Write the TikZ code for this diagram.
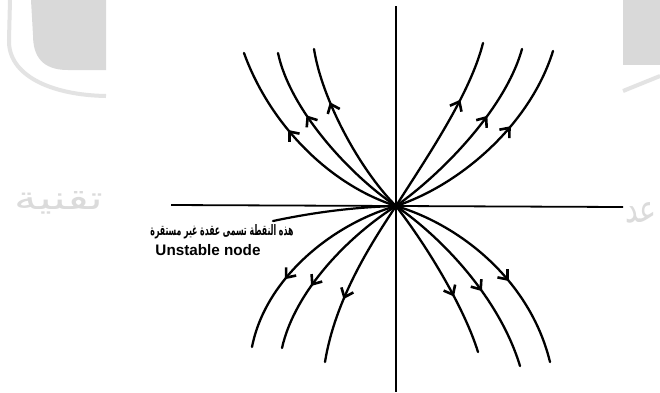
\documentclass[tikz,border=0pt]{standalone}
\usepackage{fontspec}
\setmainfont{Liberation Sans}
\newfontfamily\arabicfont[Script=Arabic]{DejaVu Sans}
\TeXXeTstate=1
\usetikzlibrary{arrows.meta,decorations.markings}
\tikzset{
  axisline/.style={line width=1.8pt, black},
  traj/.style={line width=2.3pt, black, line cap=round, postaction=decorate,
    decoration={markings, mark=at position #1 with {\arrow{Straight Barb[length=8pt,width=13pt,line width=2.6pt]}}}},
  wm/.style={fill=black!15, draw=none},
  wmline/.style={draw=black!11, line width=4pt},
  wmtext/.style={text=black!14, inner sep=0pt},
  lbl/.style={inner sep=0pt, text=black},
}
\begin{document}
\begin{tikzpicture}[x=1pt,y=-1pt]
\useasboundingbox (0,0) rectangle (660,392);
\fill[white] (0,0) rectangle (660,392);
% watermark
\fill[wm] (31,0) -- (106,0) -- (106,70) -- (68,70) .. controls (42,70) and (33,56) .. (33,35) -- cycle;
\draw[wmline] (10,0) -- (9,40) .. controls (8,75) and (50,95) .. (106,96);
\fill[wm] (623,0) rectangle (660,65);
\draw[wmline] (623,91) -- (660,76);
\node[wmtext] (wmL) at (59,203) {\resizebox{88pt}{18pt}{\arabicfont\beginR تقنية\endR}};
\node[wmtext] (wmR) at (641,213) {\resizebox{32pt}{20pt}{\arabicfont\beginR عد\endR}};
% axes
\coordinate (O) at (396,206);
\coordinate (axT) at (396,6);
\coordinate (axB) at (396,392);
\coordinate (axL) at (171,205);
\coordinate (axR) at (623,207);
\draw[axisline] (axT) -- (axB);
\draw[axisline] (axL) -- (axR);
% end points
\coordinate (ul1) at (244,53);
\coordinate (ul2) at (278,53);
\coordinate (ul3) at (314,49);
\coordinate (ur1) at (483,43);
\coordinate (ur2) at (522,49);
\coordinate (ur3) at (553,51);
\coordinate (ll1) at (252,347);
\coordinate (ll2) at (282,348);
\coordinate (ll3) at (325,362);
\coordinate (lr1) at (478,352);
\coordinate (lr2) at (520,366);
\coordinate (lr3) at (550,362);
% trajectories
\draw[traj=0.6]  (O) .. controls (330,185) and (270,125) .. (ul1);
\draw[traj=0.65] (O) .. controls (350,175) and (290,110) .. (ul2);
\draw[traj=0.69] (O) .. controls (360,170) and (322,100) .. (ul3);
\draw[traj=0.67] (O) .. controls (425,160) and (470,95) .. (ur1);
\draw[traj=0.63] (O) .. controls (440,175) and (505,110) .. (ur2);
\draw[traj=0.62] (O) .. controls (460,185) and (530,125) .. (ur3);
\draw[traj=0.64] (O) .. controls (330,225) and (265,280) .. (ll1);
\draw[traj=0.63] (O) .. controls (350,235) and (295,290) .. (ll2);
\draw[traj=0.62] (O) .. controls (370,245) and (335,300) .. (ll3);
\draw[traj=0.64] (O) .. controls (430,250) and (465,310) .. (lr1);
\draw[traj=0.59] (O) .. controls (445,240) and (500,300) .. (lr2);
\draw[traj=0.6]  (O) .. controls (460,225) and (530,280) .. (lr3);
% labels
\node[lbl] (ar) at (222,232) {\resizebox{143pt}{11pt}{\arabicfont\bfseries\beginR هذه النقطة تسمى عقدة غير مستقرة\endR}};
\node[lbl] (en) at (208,250) {\resizebox{105pt}{!}{\bfseries Unstable node}};
\coordinate (ptr) at (273,221);
\draw[line width=2.2pt, line cap=round] (ptr) .. controls (320,211) and (360,207) .. (O);
\end{tikzpicture}
\end{document}
